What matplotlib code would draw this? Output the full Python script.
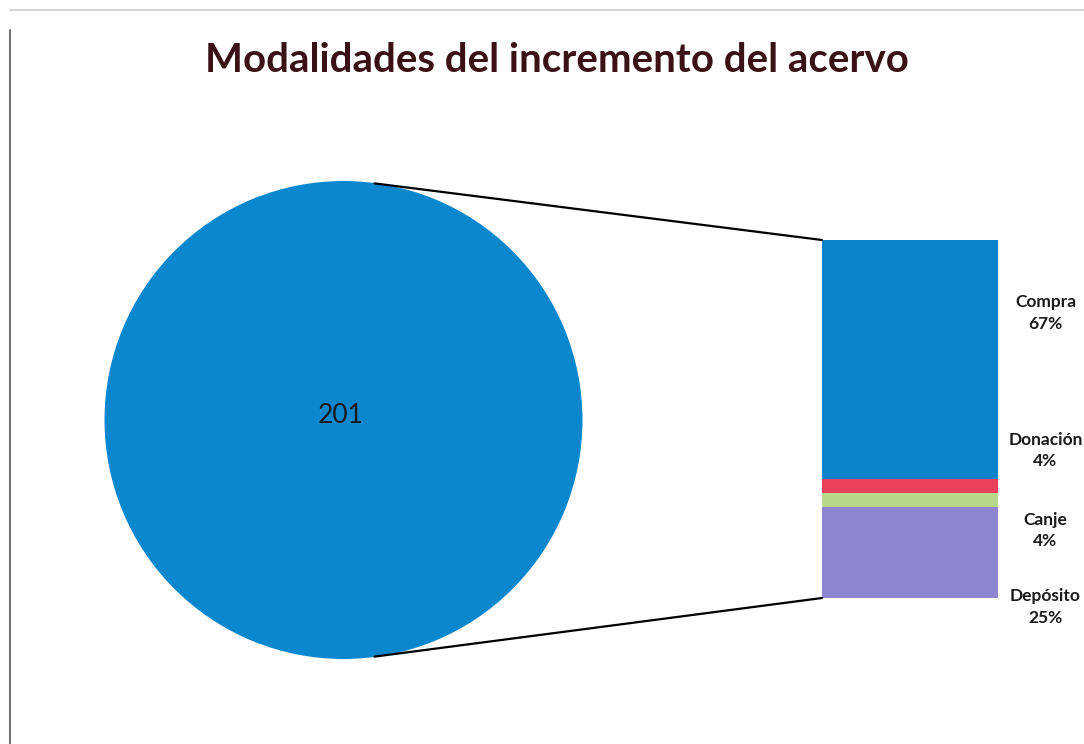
import matplotlib
matplotlib.use('Agg')
import matplotlib.pyplot as plt
from matplotlib.patches import ConnectionPatch
import matplotlib.transforms as mtransforms

# Data
categories = ['Compra', 'Donación', 'Canje', 'Depósito']
counts = [134, 8, 8, 51]
pct_labels = ['67%', '4%', '4%', '25%']
total_label = '201'
title = 'Modalidades del incremento del acervo'

colors = ['#0b83cb', '#e9405c', '#b8d98c', '#8d85cf']
pie_color = '#0b87cd'
label_y = [160, 83, 38, -5]   # label anchors on the bar scale

plt.rcParams['font.family'] = ['Lato', 'DejaVu Sans']

W, H = 1084, 744
fig = plt.figure(figsize=(W / 100, H / 100), dpi=100)

# frame of the original sheet
fig.add_artist(plt.Line2D([10 / W, 10 / W], [0, 1 - 30 / H], color='#555555', lw=1.2))
fig.add_artist(plt.Line2D([10 / W, 1], [1 - 10 / H, 1 - 10 / H], color='#cccccc', lw=1.2))

fig.text(557 / W, 1 - 61 / H, title, ha='center', va='center',
         fontsize=29, fontweight='bold', color='#3b1118')

# main pie: everything is in one slice
cx, cy, r = 343.5, 420, 239
ax_pie = fig.add_axes([(cx - r) / W, 1 - (cy + r) / H, 2 * r / W, 2 * r / H])
ax_pie.pie([sum(counts)], colors=[pie_color], radius=1, startangle=90,
           wedgeprops=dict(linewidth=0))
ax_pie.set_xlim(-1, 1)
ax_pie.set_ylim(-1, 1)
ax_pie.set_aspect('equal')
ax_pie.axis('off')
ax_pie.text(-0.01, 0.02, total_label, ha='center', va='center', fontsize=19, color='#1a1a1a')

# stacked bar with the breakdown
bx0, bx1, by0, by1 = 822, 998, 240, 598
ax_bar = fig.add_axes([bx0 / W, 1 - by1 / H, (bx1 - bx0) / W, (by1 - by0) / H])
bottom = 0
for name, val, col in list(zip(categories, counts, colors))[::-1]:
    ax_bar.bar(0, val, bottom=bottom, width=1, color=col, linewidth=0)
    bottom += val
ax_bar.set_xlim(-0.5, 0.5)
ax_bar.set_ylim(0, sum(counts))
ax_bar.axis('off')

trans = mtransforms.blended_transform_factory(ax_bar.transAxes, ax_bar.transData)
for name, pct, ly in zip(categories, pct_labels, label_y):
    ax_bar.text(1.27, ly, name + '\n' + pct, transform=trans, ha='center', va='center',
                fontsize=12.5, fontweight='bold', color='#1a1a1a', linespacing=1.4,
                clip_on=False)

# connector lines from the top and bottom of the pie to the bar
top_pt = (0.13, 0.99)
bot_pt = (0.13, -0.99)
for pie_pt, bar_y in [(top_pt, sum(counts)), (bot_pt, 0)]:
    con = ConnectionPatch(xyA=pie_pt, coordsA=ax_pie.transData,
                          xyB=(-0.5, bar_y), coordsB=ax_bar.transData,
                          color='black', linewidth=1.6)
    fig.add_artist(con)

fig.savefig('out.png', dpi=100)
